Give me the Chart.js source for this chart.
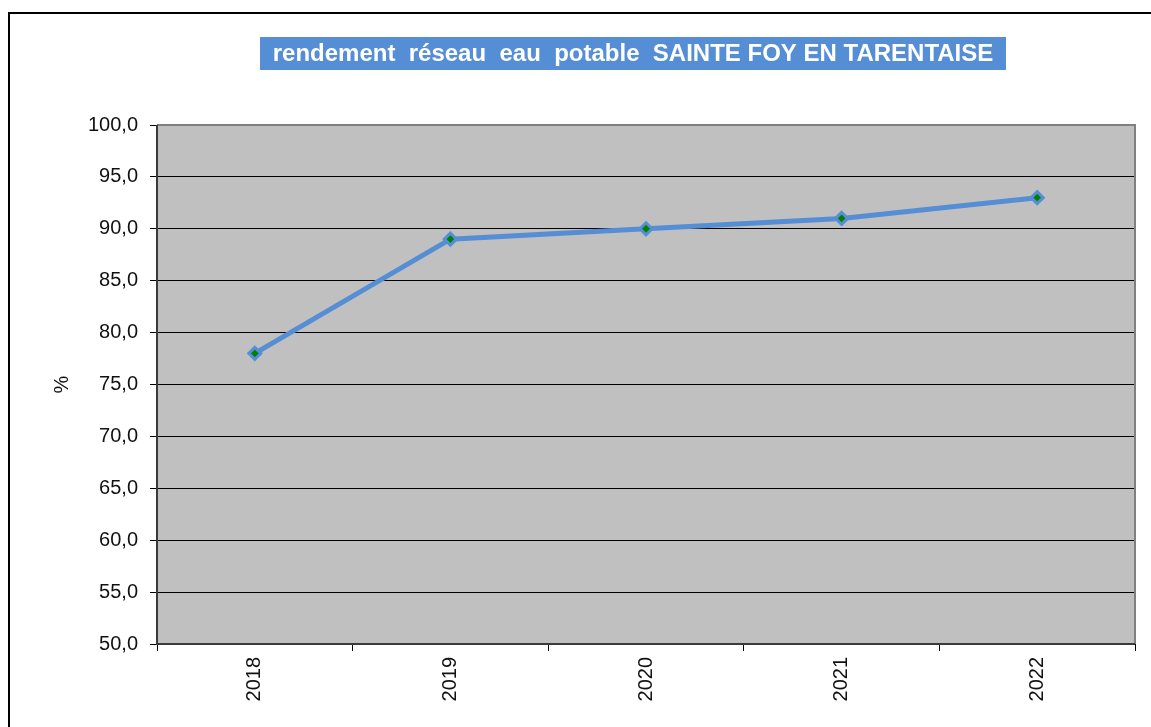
<!DOCTYPE html>
<html lang="fr">
<head>
  <meta charset="UTF-8" />
  <title>rendement réseau eau potable SAINTE FOY EN TARENTAISE</title>
  <script src="https://cdn.jsdelivr.net/npm/chart.js"></script>
  <style>
    html, body { margin: 0; padding: 0; background: #fff; }
    #wrap { width: 1151px; height: 727px; position: relative; }
  </style>
</head>
<body>
  <div id="wrap"><canvas id="chart" width="1151" height="727"></canvas></div>

  <script>
    const years = ['2018', '2019', '2020', '2021', '2022'];
    const rendement = [78.0, 89.0, 90.0, 91.0, 93.0];
    const yMin = 50, yMax = 100, yStep = 5;
    const chartTitle = 'rendement  réseau  eau  potable  SAINTE FOY EN TARENTAISE';
    const yTitle = '%';

    const blue = '#558ED5';
    const font = "'Liberation Sans', Arial, sans-serif";

    // white page, outer frame, grey plot area, title box
    const frame = {
      id: 'frame',
      beforeDraw(chart) {
        const { ctx, chartArea: a } = chart;
        ctx.save();
        ctx.fillStyle = '#fff';
        ctx.fillRect(0, 0, chart.width, chart.height);
        ctx.strokeStyle = '#000';
        ctx.lineWidth = 2;
        ctx.strokeRect(9, 13, 1300, 900);
        ctx.fillStyle = '#C0C0C0';
        ctx.fillRect(a.left, a.top, a.right - a.left, a.bottom - a.top);

        ctx.fillStyle = blue;
        ctx.fillRect(260, 37, 746, 33);
        ctx.fillStyle = '#fff';
        ctx.font = 'bold 24px ' + font;
        ctx.textAlign = 'center';
        ctx.textBaseline = 'middle';
        ctx.fillText(chartTitle, 633, 54, 730);
        ctx.restore();
      },
      beforeDatasetsDraw(chart) {
        const { ctx, chartArea: a } = chart;
        ctx.save();
        ctx.lineWidth = 2;
        ctx.strokeStyle = '#808080';
        ctx.beginPath();
        ctx.moveTo(a.left, a.top); ctx.lineTo(a.right, a.top); ctx.lineTo(a.right, a.bottom);
        ctx.stroke();
        ctx.strokeStyle = '#3a3a3a';
        ctx.beginPath();
        ctx.moveTo(a.left, a.top); ctx.lineTo(a.left, a.bottom); ctx.lineTo(a.right, a.bottom);
        ctx.stroke();
        ctx.restore();
      }
    };

    new Chart(document.getElementById('chart'), {
      type: 'line',
      data: {
        labels: years,
        datasets: [{
          data: rendement,
          borderColor: blue,
          borderWidth: 5,
          tension: 0,
          pointStyle: 'rectRot',
          pointRadius: 6,
          pointBackgroundColor: '#008000',
          pointBorderColor: blue,
          pointBorderWidth: 3
        }]
      },
      options: {
        responsive: false,
        animation: false,
        layout: { padding: { left: 46, top: 125, right: 16, bottom: 0 } },
        plugins: { legend: { display: false }, title: { display: false }, tooltip: { enabled: false } },
        scales: {
          x: {
            offset: true,
            afterFit: s => { s.height = 83; },
            grid: { offset: true, drawOnChartArea: false, tickLength: 7, color: '#000', tickColor: '#000' },
            border: { display: false },
            ticks: {
              minRotation: 90, maxRotation: 90, padding: 6,
              color: '#111', font: { family: font, size: 20 }
            }
          },
          y: {
            min: yMin, max: yMax,
            afterFit: s => { s.width = 111; },
            grid: { color: '#000', lineWidth: 1, tickLength: 7, tickColor: '#000' },
            border: { display: false },
            title: { display: true, text: yTitle, color: '#111', font: { family: font, size: 20 } },
            ticks: {
              stepSize: yStep, padding: 12, color: '#111',
              font: { family: font, size: 20 },
              callback: v => v.toFixed(1).replace('.', ',')
            }
          }
        }
      },
      plugins: [frame]
    });
  </script>
</body>
</html>
